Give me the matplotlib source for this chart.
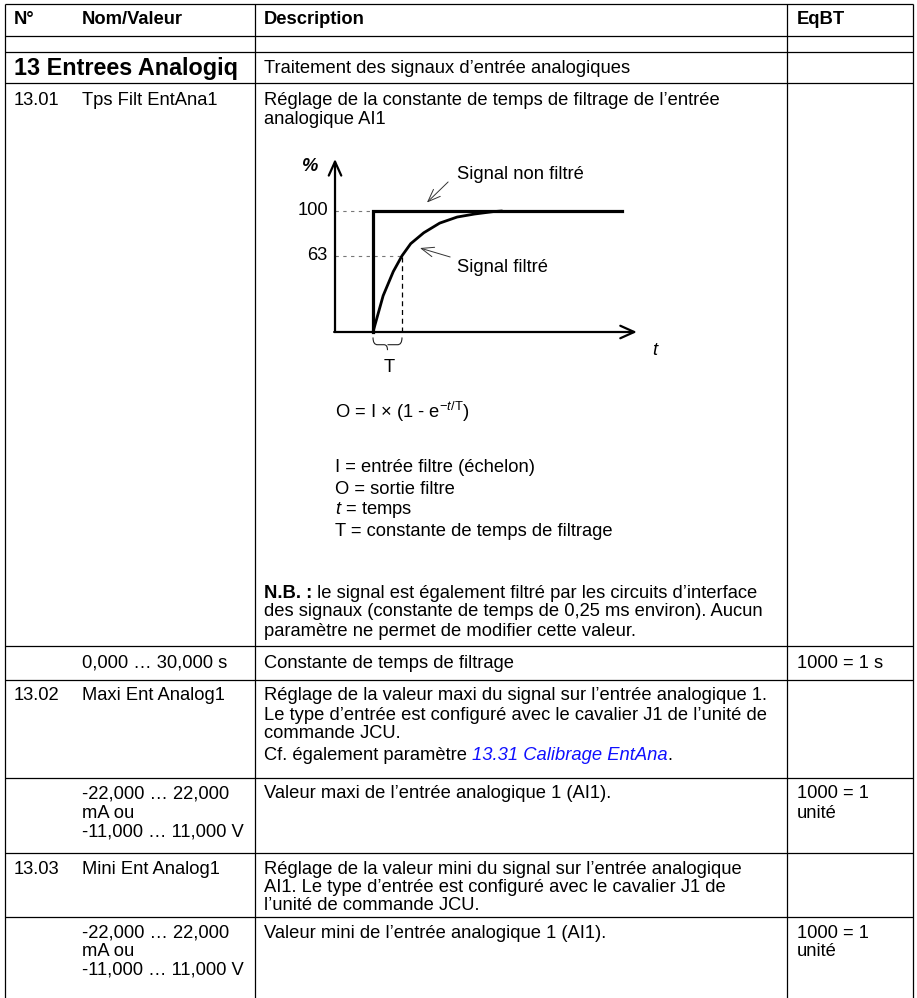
import matplotlib
matplotlib.use("Agg")
import matplotlib.pyplot as plt
from matplotlib.path import Path
from matplotlib.patches import PathPatch

plt.rcParams['font.family'] = ['Liberation Sans', 'DejaVu Sans']
plt.rcParams['mathtext.fontset'] = 'custom'
plt.rcParams['mathtext.rm'] = 'Liberation Sans'
plt.rcParams['mathtext.it'] = 'Liberation Sans:italic'
plt.rcParams['mathtext.bf'] = 'Liberation Sans:bold'

# ---------------- data ----------------
header = ["N°", "Nom/Valeur", "Description", "EqBT"]
group_title = "13 Entrees Analogiq"
group_desc = "Traitement des signaux d’entrée analogiques"

p1301_num = "13.01"
p1301_name = "Tps Filt EntAna1"
p1301_desc = ["Réglage de la constante de temps de filtrage de l’entrée",
              "analogique AI1"]
p1301_range = "0,000 … 30,000 s"
p1301_range_desc = "Constante de temps de filtrage"
p1301_scale = "1000 = 1 s"

formula = r"O = I × (1 - e$^{-\mathit{t}/\mathrm{T}}$)"
legend_lines = ["I = entrée filtre (échelon)", "O = sortie filtre",
                r"$\mathit{t}$ = temps", "T = constante de temps de filtrage"]
nb_bold = "N.B. :"
nb_lines = [" le signal est également filtré par les circuits d’interface",
            "des signaux (constante de temps de 0,25 ms environ). Aucun",
            "paramètre ne permet de modifier cette valeur."]

p1302_num = "13.02"
p1302_name = "Maxi Ent Analog1"
p1302_desc = ["Réglage de la valeur maxi du signal sur l’entrée analogique 1.",
              "Le type d’entrée est configuré avec le cavalier J1 de l’unité de",
              "commande JCU."]
p1302_cf = ["Cf. également paramètre ", "13.31 Calibrage EntAna", "."]
range_lines = ["-22,000 … 22,000", "mA ou", "-11,000 … 11,000 V"]
p1302_range_desc = "Valeur maxi de l’entrée analogique 1 (AI1)."
unit_scale = ["1000 = 1", "unité"]

p1303_num = "13.03"
p1303_name = "Mini Ent Analog1"
p1303_desc = ["Réglage de la valeur mini du signal sur l’entrée analogique",
              "AI1. Le type d’entrée est configuré avec le cavalier J1 de",
              "l’unité de commande JCU."]
p1303_range_desc = "Valeur mini de l’entrée analogique 1 (AI1)."

# diagram data (time in units of T, value in %)
step_t = [0, 0, 8.6]
step_pct = [0, 100, 100]
filt_t = [0, 0.35, 0.7, 1.0, 1.3, 1.75, 2.3, 2.9, 3.5, 4.15, 4.45]
filt_pct = [0, 30, 50, 63, 73, 82, 90, 95, 97.5, 99.5, 100]
levels = [100, 63]
level_labels = ["100", "63"]
label_unfilt = "Signal non filtré"
label_filt = "Signal filtré"

# ---------------- figure ----------------
W, H = 917, 998
fig = plt.figure(figsize=(W / 100, H / 100), dpi=100)
ax = fig.add_axes([0, 0, 1, 1])
ax.set_xlim(0, W)
ax.set_ylim(H, 0)
ax.axis('off')

FS = 13.2
LS = 19
lw_tab = 0.9
XL, XC1, XC2, XR = 5, 255, 787, 913
hlines = [4, 36, 52, 83, 646, 680, 778, 853, 917]
for y in hlines:
    ax.plot([XL, XR], [y, y], color='black', lw=lw_tab, solid_capstyle='butt')
for x in [XL, XC1, XC2, XR]:
    ax.plot([x, x], [4, H], color='black', lw=lw_tab, solid_capstyle='butt')

X0, X1, X2, X3 = 14, 82, 264, 797


def txt(x, y, s, **kw):
    kw.setdefault('fontsize', FS)
    return ax.text(x, y, s, va='center', ha='left', **kw)


def lines(x, y, seq, step=LS):
    for i, s in enumerate(seq):
        txt(x, y + step * i, s)


for x, s in zip([X0, X1, X2, X3], header):
    txt(x, 19, s, fontweight='bold')

txt(X0, 68, group_title, fontweight='bold', fontsize=16.8)
txt(X2, 68, group_desc)

txt(X0, 100, p1301_num)
txt(X1, 100, p1301_name)
lines(X2, 100, p1301_desc)

txt(335, 412, formula)
lines(335, 468, legend_lines, 21)

renderer = fig.canvas.get_renderer()
t_nb = txt(X2, 593, nb_bold, fontweight='bold')
wnb = t_nb.get_window_extent(renderer).width
txt(X2 + wnb, 593, nb_lines[0])
lines(X2, 593 + LS, nb_lines[1:])

txt(X1, 663, p1301_range)
txt(X2, 663, p1301_range_desc)
txt(X3, 663, p1301_scale)

txt(X0, 696, p1302_num)
txt(X1, 696, p1302_name)
lines(X2, 696, p1302_desc)
xx = X2
for s, kw in zip(p1302_cf, [{}, {'color': '#1010ff', 'style': 'italic'}, {}]):
    t = txt(xx, 756, s, **kw)
    xx += t.get_window_extent(renderer).width

lines(X1, 794, range_lines)
txt(X2, 794, p1302_range_desc)
lines(X3, 794, unit_scale)

txt(X0, 869, p1303_num)
txt(X1, 869, p1303_name)
lines(X2, 869, p1303_desc, 18)

lines(X1, 933, range_lines, 18.5)
txt(X2, 933, p1303_range_desc)
lines(X3, 933, unit_scale, 18.5)

# ---------------- diagram ----------------
# pixel mapping: px = 373 + 29 t ; py = 332 - 1.21 p
px0, px1, py0, py1 = 290, 690, 140, 380
dax = fig.add_axes([px0 / W, 1 - py1 / H, (px1 - px0) / W, (py1 - py0) / H])
dax.set_xlim((px0 - 373) / 29, (px1 - 373) / 29)
dax.set_ylim((332 - py1) / 1.21, (332 - py0) / 1.21)
dax.axis('off')
dax.patch.set_alpha(0)

ya_t = -1.31
dax.annotate("", xy=(ya_t, 143), xytext=(ya_t, 0),
             arrowprops=dict(arrowstyle='->,head_length=1.0,head_width=0.45',
                             lw=1.6, color='black', shrinkA=0, shrinkB=0))
dax.annotate("", xy=(9.1, 0), xytext=(ya_t - 0.03, 0),
             arrowprops=dict(arrowstyle='->,head_length=1.0,head_width=0.45',
                             lw=1.6, color='black', shrinkA=0, shrinkB=0))

for lv in levels:
    dax.plot([ya_t, 0 if lv == 100 else 1.0], [lv, lv], color='#777777',
             lw=0.8, ls=(0, (3, 4)))
dax.plot([1.0, 1.0], [0, 63], color='black', lw=0.9, ls=(0, (4, 3)))

dax.plot(step_t, step_pct, color='black', lw=2.3, solid_joinstyle='miter')
dax.plot(filt_t, filt_pct, color='black', lw=2.0, solid_capstyle='round')

for lv, s in zip(levels, level_labels):
    dax.text(ya_t - 0.25, lv, s, ha='right', va='center', fontsize=FS)
dax.text(-2.17, 137, "%", ha='center', va='center', fontsize=FS,
         fontweight='bold', style='italic')
dax.text(9.72, -15, "t", ha='center', va='center', fontsize=FS, style='italic')
dax.text(0.55, -29, "T", ha='center', va='center', fontsize=FS)

# brace under T
verts = [(0.0, -4.5), (0.0, -10.5), (0.15, -10.5), (0.38, -10.5), (0.5, -10.5),
         (0.5, -15), (0.5, -10.5), (0.62, -10.5), (0.85, -10.5), (1.0, -10.5), (1.0, -4.5)]
codes = [Path.MOVETO, Path.CURVE3, Path.CURVE3, Path.LINETO, Path.CURVE3,
         Path.CURVE3, Path.MOVETO, Path.CURVE3, Path.LINETO, Path.CURVE3, Path.CURVE3]
dax.add_patch(PathPatch(Path(verts, codes), fill=False, lw=0.8, color='#222222'))

dax.text(2.9, 130, label_unfilt, ha='left', va='center', fontsize=FS)
dax.text(2.9, 53.7, label_filt, ha='left', va='center', fontsize=FS)
arr = dict(arrowstyle='->,head_length=0.9,head_width=0.35', lw=0.7,
           color='#333333', shrinkA=0, shrinkB=0)
dax.annotate("", xy=(1.86, 107), xytext=(2.59, 124), arrowprops=arr)
dax.annotate("", xy=(1.62, 69.4), xytext=(2.66, 62), arrowprops=arr)

fig.savefig("out.png", dpi=100)
